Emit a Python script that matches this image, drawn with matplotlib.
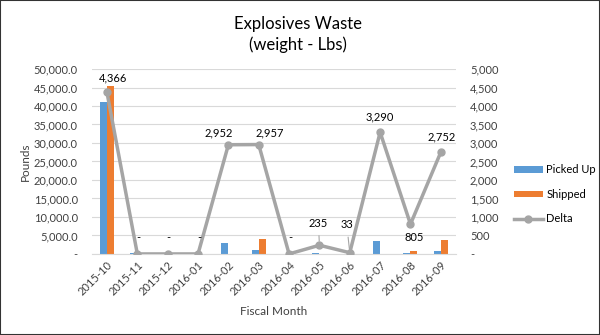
import numpy as np
import matplotlib.pyplot as plt
from matplotlib.ticker import FuncFormatter
from matplotlib.patches import Rectangle

plt.rcParams['font.family'] = ['Lato', 'DejaVu Sans']

# Monatswerte (Pfund)
months = ["2015-10", "2015-11", "2015-12", "2016-01", "2016-02", "2016-03",
          "2016-04", "2016-05", "2016-06", "2016-07", "2016-08", "2016-09"]
picked_up = [41000, 250, 0, 0, 2952, 1043, 0, 300, 33, 3400, 280, 850]
shipped = [45366, 0, 0, 0, 0, 4000, 0, 0, 0, 0, 850, 3700]
delta = [4366, 0, 0, 0, 2952, 2957, 0, 235, 33, 3290, 805, 2752]

# Versatz der Beschriftungen (Pixel) und ob eine Hilfslinie gezogen wird
label_offsets = [(6, 15), (1, 16), (1, 16), (1, 16), (-10, 12), (11, 12),
                 (1, 16), (-1, 22), (-3, 28), (0, 15), (4, -13), (1, 15)]
leader = [False] * 7 + [True, True] + [False] * 3

blue = "#5B9BD5"
orange = "#ED7D31"
grey = "#A5A5A5"
textc = "#404040"

fig = plt.figure(figsize=(6, 3.35), dpi=100)
ax = fig.add_axes([0.153, 0.242, 0.607, 0.552])
ax2 = ax.twinx()

x = np.arange(len(months))
w = 0.23
ax.bar(x - w / 2, picked_up, w, color=blue, label="Picked Up", zorder=2)
ax.bar(x + w / 2, shipped, w, color=orange, label="Shipped", zorder=2)

ax2.plot(x, delta, color=grey, lw=2.5, marker="o", ms=5, label="Delta", zorder=3)

for i, d in enumerate(delta):
    txt = "-" if d == 0 else f"{d:,}"
    dx, dy = label_offsets[i]
    props = dict(arrowstyle="-", color=grey, lw=0.8, shrinkA=3, shrinkB=3) if leader[i] else None
    ax2.annotate(txt, (x[i], d), xytext=(dx, dy), textcoords="offset pixels",
                 ha="center", va="center", fontsize=8, color="black",
                 arrowprops=props)

ax.set_xlim(-0.5, len(months) - 0.5)
ax.set_ylim(0, 50000)
ax.set_yticks(np.arange(0, 50001, 5000))
ax2.set_ylim(0, 5000)
ax2.set_yticks(np.arange(0, 5001, 500))

ax.yaxis.set_major_formatter(FuncFormatter(lambda v, p: "-" if v == 0 else f"{v:,.1f}"))
ax2.yaxis.set_major_formatter(FuncFormatter(lambda v, p: "-" if v == 0 else f"{v:,.0f}"))

ax.set_xticks(x)
ax.set_xticklabels(months, rotation=45, ha="right", rotation_mode="anchor")

ax.grid(axis="y", color="#D9D9D9", lw=0.8, zorder=0)
ax.set_axisbelow(True)
for a in (ax, ax2):
    for s in a.spines.values():
        s.set_visible(False)
    a.tick_params(length=0, labelsize=8, colors=textc)
ax.spines["bottom"].set_visible(True)
ax.spines["bottom"].set_color("#D9D9D9")
ax.tick_params(axis="y", pad=10)
ax2.tick_params(axis="y", pad=10)
ax.tick_params(axis="x", pad=4)

ax.set_ylabel("Pounds", fontsize=8.5, color=textc, labelpad=2)
ax.set_xlabel("Fiscal Month", fontsize=8.5, color=textc, labelpad=6)

fig.suptitle("Explosives Waste\n(weight - Lbs)", x=0.497, y=0.952, fontsize=12,
             color="black", linespacing=1.35)

h1, l1 = ax.get_legend_handles_labels()
h2, l2 = ax2.get_legend_handles_labels()
fig.legend(h1 + h2, l1 + l2, loc="center left", bbox_to_anchor=(0.84, 0.42),
           frameon=False, fontsize=8, handlelength=2.6, handleheight=0.5,
           labelspacing=1.2, handletextpad=0.3)

fig.patches.append(Rectangle((0, 0), 1, 1, transform=fig.transFigure, fill=False,
                             edgecolor="#333333", lw=1.5))

fig.savefig("out.png", dpi=100)
